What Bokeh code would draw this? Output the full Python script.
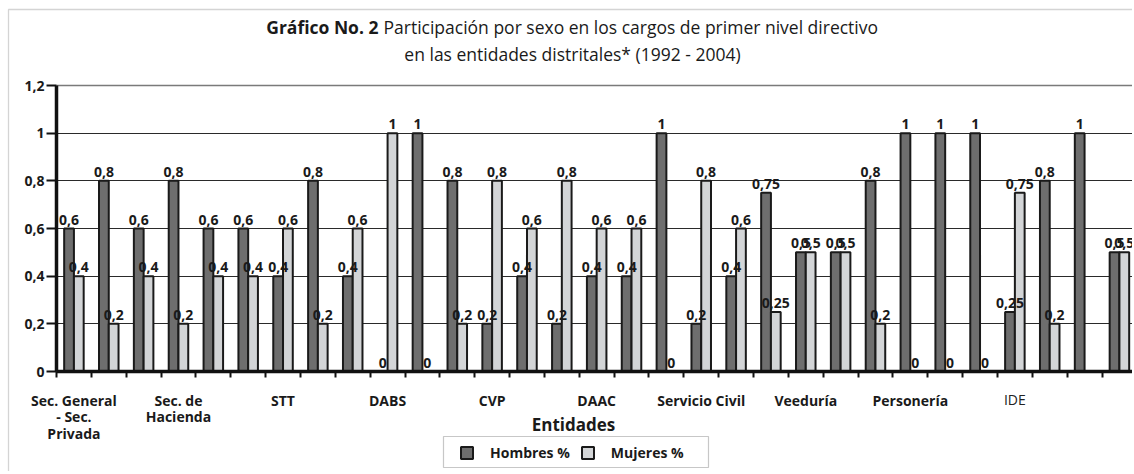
from bokeh.plotting import figure
from bokeh.models import (Range1d, FixedTicker, ColumnDataSource, Label, Legend, LegendItem,
                          BoxAnnotation, Grid)
from bokeh.core.properties import value
from bokeh.embed import file_html
from bokeh.resources import INLINE

# ---------------- data ----------------
hombres = [0.6, 0.8, 0.6, 0.8, 0.6, 0.6, 0.4, 0.8, 0.4, 0, 1, 0.8, 0.2, 0.4, 0.2, 0.4,
           0.4, 1, 0.2, 0.4, 0.75, 0.5, 0.5, 0.8, 1, 1, 1, 0.25, 0.8, 1, 0.5]
mujeres = [0.4, 0.2, 0.4, 0.2, 0.4, 0.4, 0.6, 0.2, 0.6, 1, 0, 0.2, 0.8, 0.6, 0.8, 0.6,
           0.6, 0, 0.8, 0.6, 0.25, 0.5, 0.5, 0.2, 0, 0, 0, 0.75, 0.2, float("nan"), 0.5]
etiqueta_pos = [0, 3, 6, 9, 12, 15, 18, 21, 24, 27]
etiqueta_txt = ["Sec. General\n- Sec.\nPrivada", "Sec. de\nHacienda", "STT", "DABS", "CVP",
                "DAAC", "Servicio Civil", "Veeduría", "Personería", "IDE"]
y_ticks = [0, 0.2, 0.4, 0.6, 0.8, 1.0, 1.2]
y_tick_labels = ["0", "0,2", "0,4", "0,6", "0,8", "1", "1,2"]
series = ["Hombres %", "Mujeres %"]
titulo_negrita = "Gráfico No. 2"
titulo_resto = "Participación por sexo en los cargos de primer nivel directivo"
titulo_linea2 = "en las entidades distritales* (1992 - 2004)"
titulo_x = "Entidades"

# ---------------- layout (page pixels of the reference) ----------------
W, H = 1132, 471
OX, OY = 0, 1          # canvas = page - offset
AX_X = 56              # y axis position (page)
AX_Y = 372             # x axis position (page)
TOP_Y = 86             # 1.2 level (page)
SLOT = 34.85
PX_Y = (AX_Y - TOP_Y) / 1.2

def xd(px):
    return -0.5 + (px - AX_X) / SLOT

def yd(py):
    return (AX_Y - py) / PX_Y

FONT = "Open Sans"
DARK = "#6e6e6e"
LIGHT = "#d3d5d7"
EDGE = "#1a1a1a"
TXT = "#1a1a1a"

x_end = xd(W + OX)
p = figure(width=W, height=H, output_backend="svg", toolbar_location=None,
           x_range=Range1d(xd(OX), x_end), y_range=Range1d(yd(H + OY), yd(OY)),
           min_border=0, min_border_left=0, min_border_right=0,
           min_border_top=0, min_border_bottom=0)
p.outline_line_color = None

# outer frame of the chart (left and top edges visible)
p.add_layout(BoxAnnotation(left=xd(8), top=yd(10), right=x_end + 5, bottom=yd(H + 60),
                           fill_alpha=0, line_color="#707070", line_width=1.3,
                           level="underlay"))

n = len(hombres)
idx = list(range(n))
bw = 0.28
src_h = ColumnDataSource(dict(x=[i - bw / 2 for i in idx], top=hombres))
src_m = ColumnDataSource(dict(x=[i + bw / 2 for i in idx], top=mujeres))
rh = p.vbar(x="x", top="top", bottom=0, width=bw, source=src_h, fill_color=DARK,
            line_color=EDGE, line_width=2)
rm = p.vbar(x="x", top="top", bottom=0, width=bw, source=src_m, fill_color=LIGHT,
            line_color=EDGE, line_width=2)

def fmt(v):
    return ("%g" % v).replace(".", ",")

lx, ly, lt = [], [], []
for src in (src_h, src_m):
    for x, v in zip(src.data["x"], src.data["top"]):
        if v == v:
            lx.append(x); ly.append(v); lt.append(fmt(v))
p.text(x=lx, y=ly, text=lt, text_font=value(FONT), text_font_style="bold",
       text_font_size="14px", text_align="center", text_baseline="alphabetic",
       y_offset=-9, text_color=TXT)

# grid
p.xgrid.visible = False
p.ygrid.ticker = FixedTicker(ticks=y_ticks[:-1])
p.ygrid.grid_line_color = "#2a2a2a"
p.ygrid.grid_line_width = 1
p.ygrid.cross_bounds = (-0.5, x_end)
top_grid = Grid(dimension=1, ticker=FixedTicker(ticks=y_ticks[-1:]),
                grid_line_color="#7a7a7a", grid_line_width=1.3, cross_bounds=(-0.5, x_end))
p.add_layout(top_grid)

# y axis
ya = p.yaxis[0]
ya.fixed_location = -0.5
ya.bounds = (0, 1.2)
ya.ticker = FixedTicker(ticks=y_ticks)
ya.major_label_overrides = {t: l for t, l in zip(y_ticks, y_tick_labels)}
ya.axis_line_width = 3.5
ya.axis_line_color = "#111111"
ya.major_tick_line_color = "#111111"
ya.major_tick_line_width = 2
ya.major_tick_out = 10
ya.major_tick_in = 0
ya.minor_tick_line_color = None
ya.major_label_standoff = 2
ya.major_label_text_font = FONT
ya.major_label_text_font_style = "bold"
ya.major_label_text_font_size = "14px"
ya.major_label_text_color = TXT

# x axis
xa = p.xaxis[0]
xa.fixed_location = 0
xa.bounds = (-0.5, x_end)
xa.ticker = FixedTicker(ticks=etiqueta_pos, minor_ticks=[i - 0.5 for i in range(n + 1)])
over = {pos: txt for pos, txt in zip(etiqueta_pos, etiqueta_txt)}
over[27] = ""
xa.major_label_overrides = over
xa.axis_line_width = 3.5
xa.axis_line_color = "#111111"
xa.major_tick_line_color = None
xa.major_tick_out = 0
xa.major_tick_in = 0
xa.minor_tick_line_color = "#111111"
xa.minor_tick_line_width = 2
xa.minor_tick_out = 6
xa.minor_tick_in = 0
xa.major_label_standoff = 13
xa.major_label_text_font = FONT
xa.major_label_text_font_style = "bold"
xa.major_label_text_font_size = "14px"
xa.major_label_text_color = TXT
xa.major_label_text_line_height = 0.88

# IDE label (regular weight in reference)
p.add_layout(Label(x=27, y=yd(400), text=etiqueta_txt[9], text_font=FONT, text_font_size="14px",
                   text_align="center", text_baseline="middle", text_color="#222222"))

# titles
TS = "17.5px"
split_px = 378
p.add_layout(Label(x=xd(split_px), y=yd(27), text=titulo_negrita, text_font=FONT,
                   text_font_style="bold", text_font_size=TS, text_align="right",
                   text_baseline="middle", text_color=TXT))
p.add_layout(Label(x=xd(split_px + 5), y=yd(27), text=titulo_resto, text_font=FONT,
                   text_font_size=TS, text_align="left", text_baseline="middle",
                   text_color=TXT))
p.add_layout(Label(x=xd(572), y=yd(54), text=titulo_linea2, text_font=FONT,
                   text_font_size=TS, text_align="center", text_baseline="middle",
                   text_color=TXT))
p.add_layout(Label(x=xd(573), y=yd(425), text=titulo_x, text_font=FONT,
                   text_font_style="bold", text_font_size="17px", text_align="center",
                   text_baseline="middle", text_color=TXT))

# legend frame and legend
p.add_layout(BoxAnnotation(left=xd(443), right=xd(708), top=yd(437), bottom=yd(468),
                           fill_color="white", fill_alpha=1, line_color="#444444",
                           line_width=1.2))
legend = Legend(items=[LegendItem(label=series[0], renderers=[rh]),
                       LegendItem(label=series[1], renderers=[rm])],
                orientation="horizontal", location=(459 - OX, H + OY - 463))
legend.label_text_font = FONT
legend.label_text_font_style = "bold"
legend.label_text_font_size = "14px"
legend.label_text_color = TXT
legend.glyph_width = 15
legend.glyph_height = 15
legend.label_standoff = 16
legend.spacing = 10
legend.padding = 6
legend.margin = 0
legend.border_line_color = None
legend.background_fill_alpha = 0
p.add_layout(legend, "center")

open("out.html", "w").write(file_html(p, INLINE))
